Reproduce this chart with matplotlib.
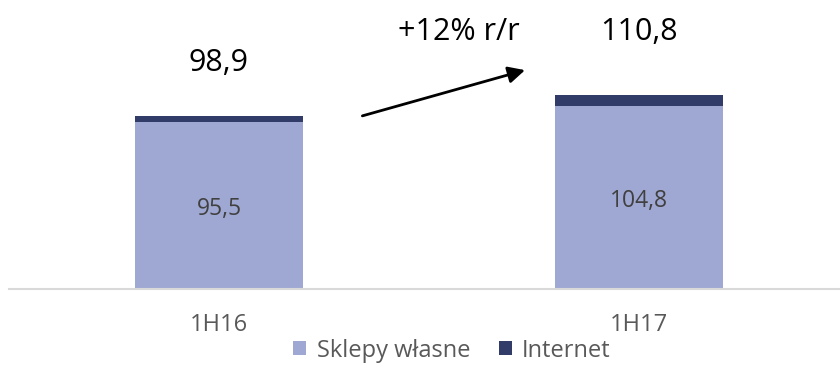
from matplotlib import pyplot as plt
import numpy as np

plt.rcParams['font.family'] = ['Open Sans', 'DejaVu Sans']

categories = ["1H16", "1H17"]
sklepy = [95.5, 104.8]
internet = [3.4, 6.0]
totals = [98.9, 110.8]
sklepy_labels = ["95,5", "104,8"]
total_labels = ["98,9", "110,8"]
growth_label = "+12% r/r"

c_light = "#9fa8d2"
c_dark = "#323c68"

fig = plt.figure(figsize=(8.4, 3.66), dpi=100)
ax = fig.add_axes([9 / 840, 77 / 366, 1.0, 289 / 366])

x = np.arange(len(categories))
ax.bar(x, sklepy, width=0.4, color=c_light, label="Sklepy własne")
ax.bar(x, internet, width=0.4, bottom=sklepy, color=c_dark, label="Internet")

# gap above each bar for the total label (as in the original slide)
label_gap = [30, 36]
for i in x:
    ax.text(i, sklepy[i] / 2 - 2, sklepy_labels[i], ha="center", va="center",
            fontsize=16.5, color="#404040")
    ax.text(i, totals[i] + label_gap[i], total_labels[i], ha="center", va="center",
            fontsize=22, color="black")

# growth arrow between the bars
ax.annotate("", xy=(0.735, 125.5), xytext=(0.335, 98.5),
            arrowprops=dict(arrowstyle="-|>,head_length=1.0,head_width=0.5",
                            color="black", lw=2))
ax.text(0.57, 147, growth_label, ha="center", va="center", fontsize=22)

ax.set_xlim(-0.5, 1.5)
ax.set_ylim(0, 289 / 1.75)
for s in ["top", "left", "right"]:
    ax.spines[s].set_visible(False)
ax.spines["bottom"].set_color("#d9d9d9")
ax.spines["bottom"].set_linewidth(1.5)
ax.set_yticks([])
ax.set_xticks(x)
ax.set_xticklabels(categories, fontsize=17, color="#595959")
ax.tick_params(axis="x", length=0, pad=17)

fig.legend(loc="center", bbox_to_anchor=(0.538, 0.042), ncol=2, frameon=False,
           fontsize=17, handlelength=0.55, handleheight=0.55, handletextpad=0.45,
           columnspacing=1.2, labelcolor="#595959", borderpad=0.1)

fig.savefig("out.png", dpi=100)
